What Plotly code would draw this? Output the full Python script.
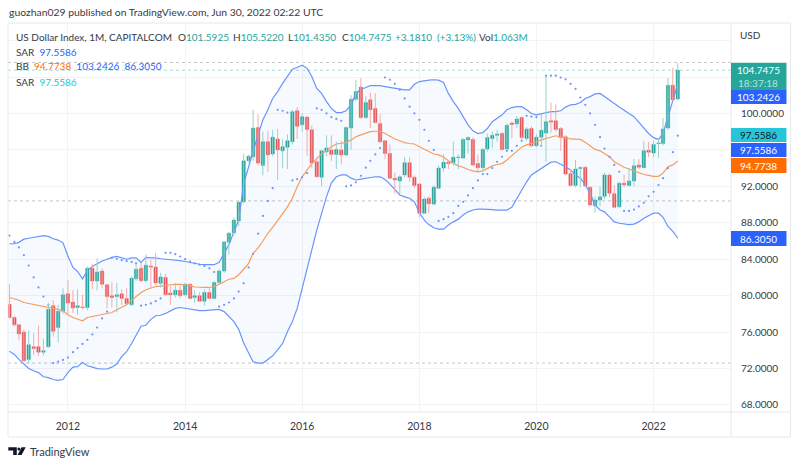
import pandas as pd
import plotly.graph_objects as go

dates = pd.date_range("2011-01-01", periods=138, freq="MS")

opens = [79.05,77.6,76.8,76.0,73.0,74.4,74.4,73.8,74.4,78.9,
76.5,78.3,80.2,79.3,78.7,78.75,78.7,83.0,81.6,82.7,
81.2,80.0,79.9,80.2,79.7,79.0,81.85,83.0,81.65,83.25,
83.15,81.35,82.0,80.3,80.1,80.6,80.1,81.25,79.8,80.0,
79.4,80.35,79.7,81.45,82.7,85.85,86.9,88.2,90.3,94.8,
95.25,98.45,94.3,96.9,95.55,97.2,95.9,96.3,96.9,100.3,
98.75,99.6,98.2,94.7,93.0,95.8,96.0,95.5,96.0,95.45,
98.4,101.55,102.9,99.55,101.5,100.55,98.9,97.0,95.6,92.9,
92.6,93.25,94.6,93.0,92.25,89.05,90.7,90.05,91.8,94.0,
94.65,94.6,95.15,95.1,97.1,97.15,94.5,94.05,96.1,97.25,
97.6,97.8,96.1,98.95,98.85,99.55,97.25,98.35,96.45,97.4,
97.85,99.2,99.2,98.35,97.45,93.4,92.1,93.95,94.1,91.9,
89.85,90.5,90.9,93.25,91.2,89.75,92.35,92.1,92.6,94.35,
94.05,95.95,95.65,96.7,96.7,98.4,103.1,101.5925]

closes = [77.6,76.8,75.8,72.85,74.6,74.2,73.8,73.95,78.5,76.1,
78.3,80.1,79.2,78.65,78.9,78.7,83.0,81.6,82.6,81.25,
79.9,79.8,80.1,79.7,79.1,81.9,82.9,81.65,83.35,83.15,
81.4,82.05,80.1,80.1,80.6,80.0,81.25,79.7,80.0,79.4,
80.35,79.7,81.45,82.7,85.9,86.85,88.3,90.25,94.8,95.3,
98.4,94.55,96.9,95.45,97.4,96.0,96.35,97.0,100.2,98.6,
99.65,98.25,94.55,93.05,95.9,96.2,95.5,96.05,95.45,98.45,
101.55,102.4,99.55,101.2,100.4,99.0,96.9,95.6,92.9,92.7,
93.05,94.6,93.0,92.1,89.05,90.6,90.1,91.9,94.0,94.65,
94.5,95.2,95.2,97.15,97.35,94.35,94.05,96.05,97.35,97.6,
97.75,96.05,98.7,98.8,99.4,97.35,98.3,96.45,97.4,98.15,
99.1,99.05,98.25,97.35,93.35,92.1,93.9,94.05,92.05,89.95,
90.5,90.85,93.25,91.25,89.7,92.35,92.15,92.6,94.25,94.1,
95.9,95.75,96.6,96.75,98.3,103.1,101.5,104.7475]

highs = [81.25,77.8,76.9,76.3,76.2,75.9,76.7,75.3,79.2,79.5,
79.0,80.8,81.7,80.6,80.7,80.1,83.2,83.5,84.1,83.0,
81.3,81.5,81.4,80.7,80.8,82.1,83.5,83.6,84.5,83.9,
84.7,82.5,82.4,81.1,81.4,81.1,81.4,81.4,80.6,80.4,
80.7,80.9,81.6,82.9,86.0,87.0,88.6,90.4,95.6,95.5,
100.4,99.9,98.0,98.1,98.2,98.3,97.2,97.7,100.4,100.7,
100.0,99.7,98.7,95.2,96.0,97.6,97.6,96.9,97.0,98.6,
102.0,103.7,103.9,101.9,102.3,102.2,99.9,97.1,96.6,93.5,
93.2,95.2,95.2,93.2,92.3,90.8,90.9,92.1,94.3,95.5,
94.9,96.9,95.5,97.3,97.5,97.4,95.5,96.2,97.8,98.0,
98.2,98.0,98.9,99.1,99.7,99.7,98.5,98.6,97.7,99.9,
104.15,101.2,101.0,98.5,97.6,93.9,94.9,94.2,94.2,92.0,
90.9,92.0,93.5,93.4,92.1,92.5,93.3,94.0,95.0,95.0,
97.0,96.9,97.0,97.3,99.5,103.9,105.0,105.522]

lows = [77.5,76.6,75.1,72.8,72.6,73.5,73.4,73.4,74.3,75.5,
74.9,78.0,77.9,78.1,77.9,78.5,78.4,80.7,80.6,80.8,
78.6,78.7,78.2,79.0,79.0,78.9,81.6,81.5,81.4,80.8,
81.2,80.9,80.0,79.0,79.8,79.7,79.9,79.6,79.2,79.3,
78.9,79.6,79.6,81.2,82.5,84.5,86.6,87.6,90.2,94.6,
94.8,94.3,93.2,93.6,95.3,92.7,94.0,93.9,96.6,97.2,
98.0,95.3,94.0,93.0,92.0,95.3,94.8,93.9,94.4,95.3,
96.0,101.4,99.4,99.4,98.4,98.9,96.8,95.0,92.8,91.2,
91.2,93.0,92.5,91.8,88.6,89.0,89.05,89.9,91.7,93.6,
93.9,94.3,93.9,95.0,95.6,94.2,93.5,93.7,95.8,96.2,
96.9,95.9,96.0,97.3,98.4,97.0,97.0,96.3,96.3,96.3,
94.7,97.9,98.0,95.9,93.2,92.0,91.9,91.9,91.9,89.8,
89.1,89.8,90.6,90.8,89.6,89.6,91.9,92.0,92.0,93.9,
94.0,95.2,95.2,95.1,96.5,98.2,101.4,101.435]

bb_upper = [85.7,85.7,85.85,86.2,86.3,86.4,86.5,86.6,86.5,86.25,
86.1,85.8,84.35,83.1,82.65,81.85,82.75,83.2,83.5,83.8,
84.0,84.2,84.3,84.15,84.0,84.15,84.15,83.65,84.2,84.15,
84.15,84.05,84.0,84.0,83.95,83.85,83.75,83.65,83.5,83.45,
83.4,83.4,83.4,83.65,84.65,85.6,87.0,88.3,92.3,94.2,
96.0,97.65,99.3,100.4,101.65,102.4,103.3,104.05,104.85,105.05,
105.3,104.95,104.05,102.75,102.2,101.3,100.55,100.1,100.1,100.3,
100.95,102.2,102.65,102.85,103.05,103.05,103.05,102.95,102.85,102.75,
102.65,102.6,102.6,103.2,103.5,103.6,103.65,103.7,103.65,103.4,
102.2,101.3,100.55,99.65,98.75,98.1,97.8,97.9,98.35,99.1,
99.45,99.85,100.4,100.65,100.75,100.75,100.4,100.0,99.85,99.95,
100.1,100.2,100.2,100.3,100.7,100.95,101.0,101.2,101.65,101.85,
102.15,102.2,101.85,101.5,101.1,100.7,100.4,100.0,99.65,99.0,
98.35,97.8,97.35,97.15,97.8,99.65,101.3,103.2426]

bb_mid = [79.8,79.65,79.5,79.25,79.15,79.05,78.95,78.8,78.7,78.6,
78.5,78.35,77.9,77.6,77.4,77.25,77.6,77.7,77.8,77.9,
78.0,78.15,78.45,78.7,79.0,79.5,79.95,80.35,80.65,80.8,
81.0,81.05,81.15,81.2,81.25,81.25,81.15,81.1,80.95,80.9,
80.9,80.9,81.0,81.25,81.55,81.8,81.9,82.3,82.9,83.55,
84.65,85.25,86.0,86.85,87.5,88.2,89.0,89.75,90.7,91.95,
93.05,93.8,94.5,95.05,95.55,95.9,96.35,96.65,96.7,96.8,
97.1,97.45,97.65,97.8,98.0,98.05,98.05,97.8,97.5,97.2,
97.0,96.8,96.7,96.65,96.35,96.05,95.8,95.55,95.45,95.2,
94.8,94.5,94.25,94.1,93.85,93.7,93.6,93.7,94.0,94.25,
94.4,94.5,94.9,95.35,95.8,96.3,96.55,96.7,96.9,97.1,
97.25,97.45,97.55,97.4,97.35,97.2,97.15,97.15,96.85,96.45,
96.05,95.9,95.6,95.25,94.7,94.35,94.1,93.9,93.7,93.45,
93.3,93.2,93.1,93.1,93.45,94.15,94.35,94.7738]

bb_lower = [73.9,73.55,73.0,72.5,72.0,71.75,71.55,71.1,71.0,70.8,
70.7,70.8,71.55,72.15,72.2,72.65,72.3,72.15,72.0,71.95,
71.95,72.15,72.5,73.3,73.85,74.75,75.7,76.65,76.75,77.4,
77.8,77.85,78.05,78.3,78.6,78.7,78.6,78.55,78.4,78.35,
78.35,78.4,78.5,78.5,78.25,77.7,77.15,76.3,74.8,73.7,
72.75,72.6,72.6,73.0,73.4,74.05,74.75,76.05,77.15,78.6,
80.8,83.2,85.0,87.2,89.0,90.87,92.35,93.05,93.25,93.25,
92.9,92.7,92.8,92.9,93.0,93.05,93.05,92.75,92.25,91.6,
91.05,90.85,90.7,90.3,89.1,88.3,87.8,87.45,87.3,87.3,
87.75,88.1,88.4,88.85,89.2,89.4,89.5,89.5,89.5,89.45,
89.4,89.4,89.4,89.7,90.7,91.6,92.5,93.25,93.6,94.0,
94.35,94.65,94.7,94.45,94.15,93.8,93.25,92.9,92.15,91.25,
89.95,89.4,89.2,88.65,88.1,87.95,87.85,87.8,87.85,88.1,
88.5,88.8,89.05,89.05,88.6,87.6,87.05,86.305]

sar = [86.6,85.9,85.3,84.45,83.3,82.0,80.9,79.9,79.0,72.6,
72.75,72.95,73.2,73.8,74.25,74.7,75.15,75.75,76.5,77.5,
78.25,84.15,84.05,83.9,83.8,83.7,83.55,78.9,79.0,79.15,
79.4,79.7,84.7,84.7,84.55,84.3,84.0,83.75,83.55,83.4,
83.25,83.0,82.6,78.8,79.0,79.25,79.7,80.45,81.35,83.1,
84.6,86.8,88.75,90.4,91.8,100.4,100.3,100.1,92.65,92.8,
93.0,93.45,95.0,100.55,100.4,100.0,99.6,99.4,99.2,92.0,
92.1,92.45,93.15,94.05,94.8,95.5,96.2,103.95,103.7,103.25,
102.6,101.65,100.75,100.0,99.3,98.2,97.0,96.0,88.2,88.4,
88.65,89.05,89.85,90.3,91.0,91.8,92.65,93.35,93.35,94.0,
94.7,95.25,95.9,95.9,96.45,97.0,99.75,99.65,99.6,96.45,
104.15,104.15,104.15,103.95,103.75,103.25,102.7,101.75,100.95,100.0,
98.75,97.4,96.15,95.25,94.35,93.6,89.3,89.3,89.45,89.8,
90.2,90.9,91.4,92.15,92.9,94.0,95.75,97.5586]

year_ticks = ["2012-01-01","2014-01-01","2016-01-01","2018-01-01","2020-01-01","2022-01-01"]
year_labels = ["2012","2014","2016","2018","2020","2022"]
price_grid = [68,72,76,80,84,88,92,96,100,104,108]
price_labels = ["68.0000","72.0000","76.0000","80.0000","84.0000","88.0000","92.0000","","100.0000","",""]
period_high, period_low_a, period_low_b = 105.6, 90.4, 72.6
last_close, last_sar, last_mid, last_upper, last_lower = "104.7475","97.5586","94.7738","103.2426","86.3050"

GREEN, RED = "#26a69a", "#ef5350"
BLUE, ORANGE, CYAN = "#2962ff", "#ff6d00", "#26c6da"
BAND = "#6a94fb"
FONT = "Lato"
INK = "#363a45"

L, R, T, B = 8, 731.5, 23, 412
W, H = 800, 467
px = lambda v: (v - L) / (R - L)
py = lambda v: (B - v) / (B - T)

def wick_trace(up, color):
    xs, ys = [], []
    for d, o, h, l, c in zip(dates, opens, highs, lows, closes):
        if (c >= o) == up:
            xs += [d, d, None]
            ys += [l, h, None]
    return go.Scatter(x=xs, y=ys, mode="lines", line=dict(color=color, width=1), hoverinfo="skip")

fig = go.Figure()
fig.add_trace(go.Scatter(x=dates, y=bb_lower, mode="lines", line=dict(color=BAND, width=1.2), hoverinfo="skip"))
fig.add_trace(go.Scatter(x=dates, y=bb_upper, mode="lines", line=dict(color=BAND, width=1.2), fill="tonexty",
                         fillcolor="rgba(41,130,255,0.045)", hoverinfo="skip"))
fig.add_trace(go.Scatter(x=dates, y=bb_mid, mode="lines", line=dict(color="#f99b5c", width=1.2), hoverinfo="skip"))
fig.add_trace(go.Scatter(x=dates, y=sar, mode="markers", marker=dict(color="#6f93fa", size=2.2), hoverinfo="skip"))
fig.add_trace(wick_trace(True, "#93d3cc"))
fig.add_trace(wick_trace(False, "#f7a9a7"))
fig.add_trace(go.Candlestick(x=dates, open=opens, close=closes,
    high=[max(a, b) for a, b in zip(opens, closes)], low=[min(a, b) for a, b in zip(opens, closes)],
    increasing=dict(line=dict(color=GREEN, width=0.4), fillcolor=GREEN),
    decreasing=dict(line=dict(color=RED, width=0.4), fillcolor=RED)))

shapes, ann = [], []
def hline(v, color, dash="dot"):
    shapes.append(dict(type="line", xref="paper", yref="y", x0=0, x1=1, y0=v, y1=v, layer="below",
                       line=dict(color=color, width=1, dash=dash)))
hline(period_high, "#c4c4c4"); hline(period_low_a, "#c4c4c4"); hline(period_low_b, "#c4c4c4")
hline(float(last_close), "#a5dcd6")

def frame(x0, y0, x1, y1):
    shapes.append(dict(type="line", xref="paper", yref="paper", x0=px(x0), x1=px(x1), y0=py(y0), y1=py(y1),
                       line=dict(color="#e6e8ee", width=1)))
frame(L, T, 791, T); frame(L, 437, 791, 437); frame(L, T, L, 437); frame(791, T, 791, 437)
frame(R, T, R, 437); frame(L, B, 791, B)

def text(x, y, s, color=INK, size=10, anchor="left"):
    ann.append(dict(xref="paper", yref="paper", x=px(x), y=py(y), text=s, showarrow=False, xanchor=anchor,
                    yanchor="middle", align="left", borderpad=0,
                    font=dict(family=FONT, size=size, color=color)))

def tag(y0, y1, color, s, tcolor="#ffffff"):
    shapes.append(dict(type="rect", xref="paper", yref="paper", x0=px(731.5), x1=px(787), y0=py(y0), y1=py(y1),
                       fillcolor=color, line=dict(width=0)))
    text(759, (y0 + y1) / 2, s, tcolor, 10, "center")

text(8, 12, "guozhan029 published on TradingView.com, Jun 30, 2022 02:22 UTC", INK, 10.4)
text(15, 37, "US Dollar Index, 1M, CAPITALCOM")
for x, lab, val in [(177, "O", "101.5925"), (232, "H", "105.5220"), (287, "L", "101.4350"), (341, "C", "104.7475")]:
    text(x, 37, f'{lab}<span style="color:{GREEN}">{val}</span>')
text(394, 37, "+3.1810", GREEN); text(436, 37, "(+3.13%)", GREEN)
text(478, 37, f'Vol<span style="color:{GREEN}">1.063M</span>')
text(15, 52, f'SAR  <span style="color:{BLUE}">{last_sar}</span>')
text(15, 66, f'BB  <span style="color:{ORANGE}">{last_mid}</span>  <span style="color:{BLUE}">{last_upper}</span>  <span style="color:{BLUE}">{last_lower}</span>')
text(15, 82, f'SAR  <span style="color:{CYAN}">{last_sar}</span>')
text(740, 35, "USD", INK, 10)

shapes.append(dict(type="rect", xref="paper", yref="paper", x0=px(731.5), x1=px(787), y0=py(62.7), y1=py(90),
                   fillcolor=GREEN, line=dict(width=0)))
text(759, 70, last_close, "#ffffff", 10, "center")
text(759, 83, "18:37:18", "#b6e3de", 10, "center")
tag(90, 104, BLUE, last_upper)
tag(128, 142, CYAN, last_sar, "#131722")
tag(143, 157, BLUE, last_sar)
tag(158, 173, ORANGE, last_mid)
tag(231, 246, BLUE, last_lower)

# TradingView wordmark
text(29, 452, "TradingView", INK, 11)
shapes.append(dict(type="path", xref="paper", yref="paper", line=dict(width=0), fillcolor="#131722",
    path=("M %f %f L %f %f L %f %f L %f %f L %f %f L %f %f Z" % (
        px(8.3), py(447.3), px(16.8), py(447.3), px(16.8), py(455), px(13.2), py(455),
        px(13.2), py(450.6), px(8.3), py(450.6)))))
shapes.append(dict(type="circle", xref="paper", yref="paper", line=dict(width=0), fillcolor="#131722",
    x0=px(17.4), x1=px(20.4), y0=py(450.5), y1=py(447.5)))
shapes.append(dict(type="path", xref="paper", yref="paper", line=dict(width=0), fillcolor="#131722",
    path="M %f %f L %f %f L %f %f L %f %f Z" % (px(21.6), py(447.3), px(25.7), py(447.3),
                                                 px(21.6), py(455), px(17.6), py(455))))

fig.update_layout(
    width=W, height=H, autosize=False, showlegend=False, plot_bgcolor="#ffffff", paper_bgcolor="#ffffff",
    margin=dict(l=L, r=W - R, t=T, b=H - B), shapes=shapes, annotations=ann,
    boxmode="group", boxgap=0.25, boxgroupgap=0,
    xaxis=dict(type="date", range=["2010-12-23", "2023-04-29"], rangeslider=dict(visible=False),
               tickvals=year_ticks, ticktext=year_labels, showgrid=True, gridcolor="#f2f3f6", gridwidth=1,
               zeroline=False, showline=False, ticks="outside", ticklen=4, tickcolor="rgba(0,0,0,0)",
               tickfont=dict(family=FONT, size=10.5, color=INK)),
    yaxis=dict(range=[67.23, 109.93], side="right", tickvals=price_grid, ticktext=price_labels, showgrid=True,
               gridcolor="#f2f3f6", gridwidth=1, zeroline=False, showline=False, ticks="outside", ticklen=7,
               tickcolor="rgba(0,0,0,0)", tickfont=dict(family=FONT, size=10, color=INK)),
)
fig.write_html("out.html", config={"displayModeBar": False}, post_script="document.body.style.margin='0';")
